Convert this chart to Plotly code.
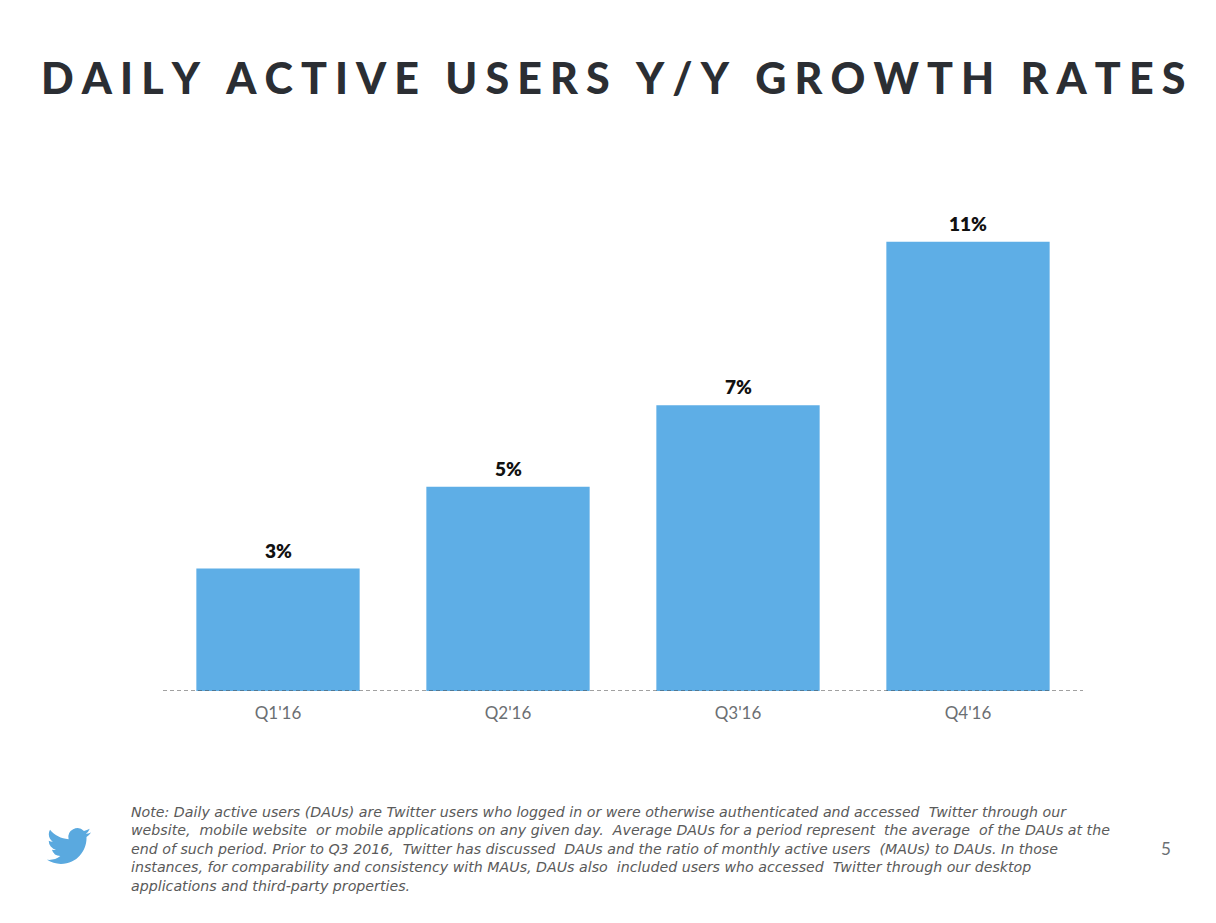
import base64
import plotly.graph_objects as go

# --- data ---
quarters = ["Q1'16", "Q2'16", "Q3'16", "Q4'16"]
growth = [3, 5, 7, 11]
labels = ["3%", "5%", "7%", "11%"]

title = "DAILY ACTIVE USERS Y/Y GROWTH RATES"
note_lines = [
    "Note: Daily active users (DAUs) are Twitter users who logged in or were otherwise authenticated and accessed  Twitter through our",
    "website,  mobile website  or mobile applications on any given day.  Average DAUs for a period represent  the average  of the DAUs at the",
    "end of such period. Prior to Q3 2016,  Twitter has discussed  DAUs and the ratio of monthly active users  (MAUs) to DAUs. In those",
    "instances, for comparability and consistency with MAUs, DAUs also  included users who accessed  Twitter through our desktop",
    "applications and third-party properties.",
]
page_no = "5"

# --- geometry (pixels of the 1216x923 page) ---
W, H = 1216, 923
L, R, T, B = 163, 133, 201, 232
PW, PH = W - L - R, H - T - B

BLUE = "#5EAEE6"
DARK = "#2B2E33"
GREY = "#6B6F73"


def px(x):
    return (x - L) / PW


def py(y):
    return (H - B - y) / PH


def spaced(s, gap="\u2009\u200a"):
    return gap.join(s)


bird_svg = (
    '<svg xmlns="http://www.w3.org/2000/svg" viewBox="0 0 24 24">'
    '<path fill="#5AA9DF" d="M23.953 4.57a10 10 0 01-2.825.775 4.958 4.958 0 002.163-2.723'
    'c-.951.555-2.005.959-3.127 1.184a4.92 4.92 0 00-8.384 4.482C7.69 8.095 4.067 6.13 1.64 3.162'
    'a4.822 4.822 0 00-.666 2.475c0 1.71.87 3.213 2.188 4.096a4.904 4.904 0 01-2.228-.616v.06'
    'a4.923 4.923 0 003.946 4.827 4.996 4.996 0 01-2.212.085 4.936 4.936 0 004.604 3.417'
    ' 9.867 9.867 0 01-6.102 2.105c-.39 0-.779-.023-1.17-.067a13.995 13.995 0 007.557 2.209'
    'c9.053 0 13.998-7.496 13.998-13.985 0-.21 0-.42-.015-.63A9.935 9.935 0 0024 4.59z"/></svg>'
)
bird_src = "data:image/svg+xml;base64," + base64.b64encode(bird_svg.encode()).decode()

fig = go.Figure(
    go.Bar(
        x=quarters,
        y=growth,
        marker=dict(color=BLUE, line=dict(width=0)),
        width=0.71,
        hoverinfo="skip",
    )
)

# value labels above the bars
for q, v, lab in zip(quarters, growth, labels):
    fig.add_annotation(
        x=q, y=v, text=lab, showarrow=False,
        xanchor="center", yanchor="bottom", yshift=5,
        font=dict(family="Lato, sans-serif", size=19, color="#111111", weight=800),
    )

fig.update_layout(
    width=W,
    height=H,
    margin=dict(l=L, r=R, t=T, b=B, pad=0),
    paper_bgcolor="white",
    plot_bgcolor="white",
    showlegend=False,
    font=dict(family="Lato, sans-serif"),
    xaxis=dict(
        showgrid=False,
        showline=False,
        ticks="",
        tickfont=dict(size=17, color=GREY),
        ticklabelstandoff=10,
    ),
    yaxis=dict(range=[0, 12], visible=False),
)

# dashed baseline
fig.add_shape(
    type="line", xref="paper", yref="y", x0=0, x1=1, y0=0, y1=0,
    line=dict(color="#444444", width=1.2, dash="4px,3px"), layer="above",
)

# title
fig.add_annotation(
    text=spaced(title),
    xref="paper", yref="paper", x=px(613), y=py(77),
    xanchor="center", yanchor="middle", showarrow=False,
    font=dict(family="Lato, sans-serif", size=43, color=DARK, weight=900),
)

# footnote
fig.add_annotation(
    text="<i>" + "<br>".join(note_lines) + "</i>",
    xref="paper", yref="paper", x=px(129), y=py(802),
    xanchor="left", yanchor="top", align="left", showarrow=False,
    font=dict(family="DejaVu Sans, sans-serif", size=14.2, color="#5A5A5A"),
)

# page number
fig.add_annotation(
    text=page_no,
    xref="paper", yref="paper", x=px(1166), y=py(849),
    xanchor="center", yanchor="middle", showarrow=False,
    font=dict(family="Lato, sans-serif", size=17, color=GREY),
)

# bird logo
fig.add_layout_image(
    source=bird_src,
    xref="paper", yref="paper", x=px(44), y=py(824),
    sizex=50 / PW, sizey=44 / PH, xanchor="left", yanchor="top",
    sizing="contain", layer="above",
)

fig.write_html(
    "out.html",
    config={"displayModeBar": False},
    post_script="document.body.style.margin = '0';",
)
